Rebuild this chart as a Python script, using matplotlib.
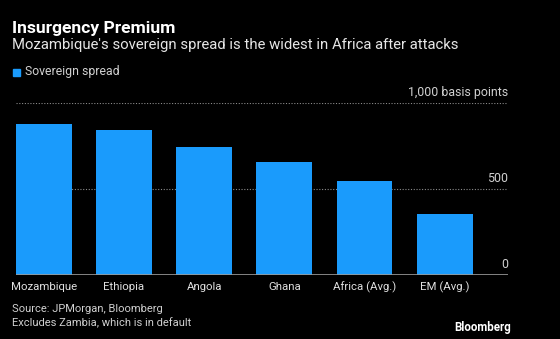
import matplotlib.pyplot as plt
import numpy as np

plt.rcParams["font.family"] = ["Roboto", "DejaVu Sans"]

countries = ["Mozambique", "Ethiopia", "Angola", "Ghana", "Africa (Avg.)", "EM (Avg.)"]
spread = [878, 841, 746, 657, 547, 355]
y_ticks = [0, 500, 1000]
y_labels = ["0", "500", "1,000 basis points"]

BLUE = "#1a9bfc"
BG = "#000000"

fig = plt.figure(figsize=(5.6, 3.39), dpi=100, facecolor=BG)
ax = fig.add_axes([16 / 560, 1 - 275 / 339, (508 - 16) / 560, (275 - 103) / 339])
ax.set_facecolor(BG)

x = np.arange(len(countries))
ax.bar(x, spread, width=0.695, color=BLUE, zorder=2)
ax.set_xlim(-0.3475, 5.79)
ax.set_ylim(0, 1000)

for t in y_ticks[1:]:
    ax.axhline(t, color="#8a8a8a", lw=0.8, ls=(0, (1, 1.5)), zorder=1)
ax.axhline(0, color="#9a9a9a", lw=1.2, zorder=3)
for t, lab in zip(y_ticks, y_labels):
    ax.text(1.0, t + 22, lab, transform=ax.get_yaxis_transform(), ha="right",
            va="bottom", color="#d0d0d0", fontsize=8.9)

ax.set_xticks(x)
ax.set_xticklabels(countries, color="#e0e0e0", fontsize=8.2)
ax.tick_params(axis="x", length=0, pad=5)
ax.set_yticks([])
for s in ax.spines.values():
    s.set_visible(False)

fig.text(12 / 560, 1 - 28 / 339, "Insurgency Premium", color="white", fontsize=12.6,
         fontweight="bold", va="center")
fig.text(12 / 560, 1 - 45 / 339, "Mozambique's sovereign spread is the widest in Africa after attacks",
         color="#e6e6e6", fontsize=10.7, va="center")
fig.patches.append(plt.Rectangle((13 / 560, 1 - 76 / 339), 7 / 560, 7 / 339,
                                 transform=fig.transFigure, color=BLUE))
fig.text(25 / 560, 1 - 72 / 339, "Sovereign spread", color="#d0d0d0", fontsize=8.8, va="center")

fig.text(12 / 560, 1 - 309.5 / 339, "Source: JPMorgan, Bloomberg", color="#d0d0d0",
         fontsize=8.0, va="center")
fig.text(12 / 560, 1 - 323 / 339, "Excludes Zambia, which is in default", color="#d0d0d0",
         fontsize=8.0, va="center")
fig.text(511 / 560, 1 - 328 / 339, "Bloomberg", color="white", fontsize=8.3,
         fontweight="bold", ha="right", va="center")

fig.savefig("out.png", dpi=100, facecolor=BG)
